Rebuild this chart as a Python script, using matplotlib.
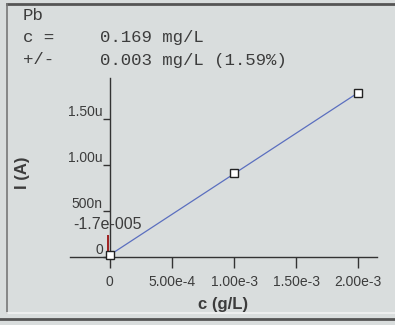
import numpy as np
import matplotlib
matplotlib.use("Agg")
import matplotlib.pyplot as plt
from matplotlib.lines import Line2D

# data
conc = [0.0, 1.0e-3, 2.0e-3]            # g/L added
current = [0.02e-6, 0.91e-6, 1.79e-6]   # A
x_intercept = -1.7e-5
intercept_mark_height = 0.24e-6
xtick_pos = [0, 5e-4, 1e-3, 1.5e-3, 2e-3]
xtick_labels = ["0", "5.00e-4", "1.00e-3", "1.50e-3", "2.00e-3"]
ytick_pos = [0, 0.5e-6, 1.0e-6, 1.5e-6]
ytick_labels = ["0", "500n", "1.00u", "1.50u"]
header = [("Pb", ""), ("c =", "0.169 mg/L"), ("+/-", "0.003 mg/L (1.59%)")]

bg = "#d9dddd"
txt = "#3c3c3c"
W, H = 395, 325

fig = plt.figure(figsize=(W / 100, H / 100), dpi=100, facecolor=bg)
ax = fig.add_axes([70 / W, 1 - 257 / H, 307 / W, 179 / H])
ax.set_facecolor(bg)

# panel frame
fig.add_artist(Line2D([7 / W, 1], [1 - 4 / H, 1 - 4 / H], color="#555", lw=2, transform=fig.transFigure))
fig.add_artist(Line2D([7 / W, 7 / W], [1 - 4 / H, 1 - 313 / H], color="#777", lw=1.2, transform=fig.transFigure))
fig.add_artist(Line2D([7 / W, 1], [1 - 313 / H, 1 - 313 / H], color="#f2f2f2", lw=1.2, transform=fig.transFigure))
fig.add_artist(Line2D([0, 1], [1 - 319 / H, 1 - 319 / H], color="#555", lw=2, transform=fig.transFigure))

# header text
for i, (k, v) in enumerate(header):
    y = 1 - (15 + 22.5 * i) / H
    fig.text(23 / W, y, k, family="Liberation Mono", fontsize=12.5, color=txt, va="center")
    fig.text(100 / W, y, v, family="Liberation Mono", fontsize=12.5, color=txt, va="center")

# fit line
slope, icpt = np.polyfit(conc, current, 1)
xs = np.array([conc[0], conc[-1]])
ax.plot(xs, icpt + slope * xs, color="#5b6fbf", lw=0.9)
ax.plot(conc, current, ls="none", marker="s", ms=6, mfc="white", mec="#222", mew=1, clip_on=False, zorder=5)

# x-intercept marker
ax.vlines(x_intercept, 0, intercept_mark_height, color="#a02020", lw=1.4)
ax.text(x_intercept, intercept_mark_height + 0.03e-6, "-1.7e-005", ha="center", va="bottom",
        family="Liberation Sans", fontsize=11.5, color=txt)

ax.set_xlim(-3.2e-4, 2.15e-3)
ax.set_ylim(0, 1.95e-6)
for s in ["top", "right"]:
    ax.spines[s].set_visible(False)
ax.spines["left"].set_position(("data", 0))
ax.spines["bottom"].set_position(("data", 0))
for s in ["left", "bottom"]:
    ax.spines[s].set_color("#333")
    ax.spines[s].set_linewidth(1)

ax.set_xticks(xtick_pos, xtick_labels)
ax.set_yticks(ytick_pos, ytick_labels)
ax.tick_params(axis="x", direction="out", length=8, width=1, color="#333", pad=5, labelsize=10, labelcolor=txt)
ax.tick_params(axis="y", direction="out", length=5, width=1, color="#333", pad=0, labelsize=10, labelcolor=txt)
for lab in ax.get_xticklabels() + ax.get_yticklabels():
    lab.set_family("Liberation Sans")
for lab in ax.get_yticklabels():
    lab.set_va("bottom")

fig.text(223 / W, 1 - 304 / H, "c (g/L)", ha="center", va="center", family="Liberation Sans",
         fontweight="bold", fontsize=12, color=txt)
fig.text(23 / W, 1 - 173 / H, "I (A)", ha="center", va="center", rotation=90, family="Liberation Sans",
         fontweight="bold", fontsize=12, color=txt)

fig.savefig("out.png", dpi=100, facecolor=bg)
